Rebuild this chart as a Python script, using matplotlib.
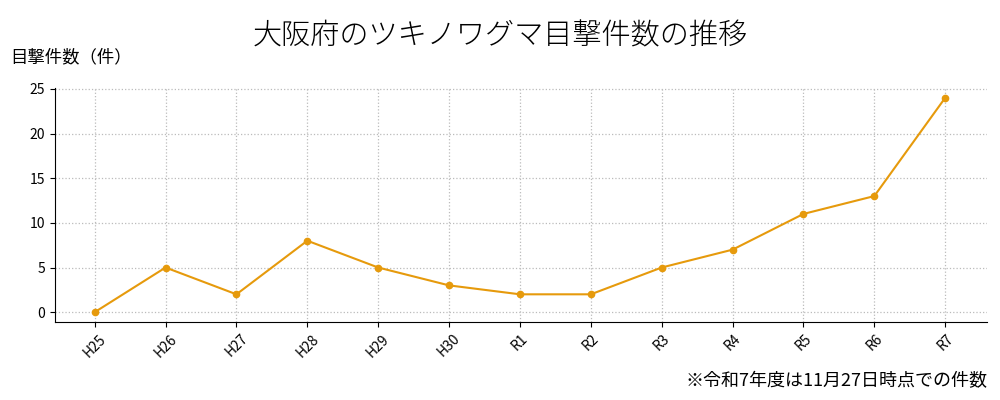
import matplotlib
matplotlib.use("Agg")
import matplotlib.pyplot as plt

plt.rcParams['font.family'] = ['Noto Sans CJK JP', 'DejaVu Sans']

# --> Data.
years = ["H25", "H26", "H27", "H28", "H29", "H30", "R1", "R2", "R3", "R4", "R5", "R6", "R7"]
sightings = [0, 5, 2, 8, 5, 3, 2, 2, 5, 7, 11, 13, 24]

fig = plt.figure(figsize=(10, 4), dpi=100)
ax = fig.add_axes([0.055, 0.195, 0.932, 0.585])

x = range(len(years))
ax.plot(x, sightings, color="#E69A0C", marker="o", markersize=4.5, linewidth=1.5)

ax.set_xlim(-0.56, 12.59)
ax.set_ylim(-1.1, 25.1)
ax.set_yticks([0, 5, 10, 15, 20, 25])
ax.set_xticks(list(x))
ax.set_xticklabels(years, rotation=45)
ax.tick_params(labelsize=10)
ax.grid(True, linestyle=":", color="#bbbbbb", linewidth=0.9)
ax.spines["top"].set_visible(False)
ax.spines["right"].set_visible(False)

fig.text(0.5, 0.89, "大阪府のツキノワグマ目撃件数の推移", ha="center", fontsize=21,
         fontweight="light")
fig.text(0.01, 0.845, "目撃件数（件）", ha="left", fontsize=12.5)
fig.text(0.987, 0.035, "※令和7年度は11月27日時点での件数", ha="right", fontsize=13)

fig.savefig("out.png")
